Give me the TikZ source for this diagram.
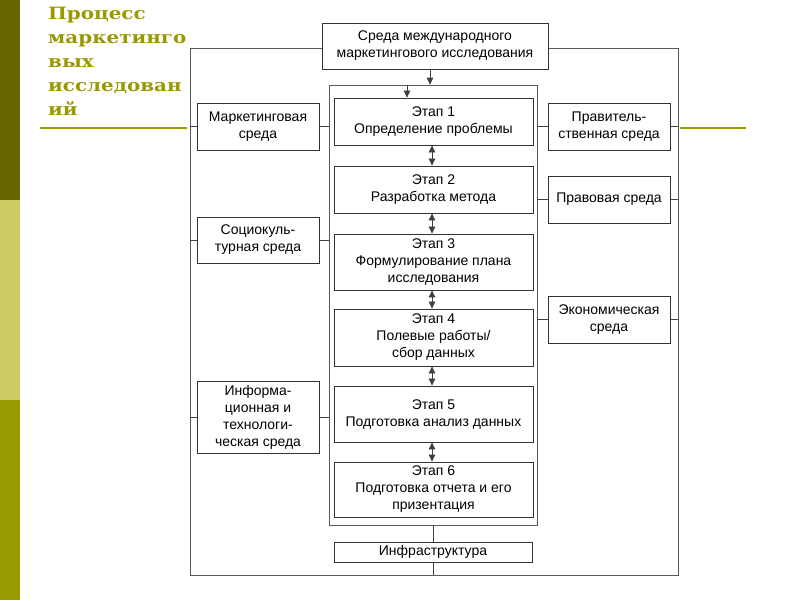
\documentclass[tikz,border=0pt]{standalone}
\usepackage{fontspec}
\setmainfont{Liberation Sans}
\newfontfamily\titlefont[FakeStretch=1.17]{DejaVu Serif}
\usetikzlibrary{arrows.meta}
\definecolor{oliveA}{RGB}{102,102,0}
\definecolor{oliveB}{RGB}{204,204,102}
\definecolor{oliveC}{RGB}{153,153,0}
\definecolor{titlecol}{RGB}{153,153,0}
\begin{document}
\begin{tikzpicture}[x=1pt,y=-1pt,
  box/.style={draw=black!80, line width=0.8pt, fill=white, rectangle, inner sep=0pt,
    align=center, font=\fontsize{14}{17}\selectfont},
  framebox/.style={draw=black!65, line width=0.7pt, rectangle, inner sep=0pt},
  link/.style={draw=black!75, line width=0.7pt},
  arr/.style={link, -{Triangle[length=7pt,width=6.5pt]}},
  darr/.style={link, {Triangle[length=7pt,width=6.5pt]}-{Triangle[length=7pt,width=6.5pt]}}]
\useasboundingbox (0,0) rectangle (800,600);
% side bar
\fill[oliveA] (0,0) rectangle (20,200);
\fill[oliveB] (0,200) rectangle (20,400);
\fill[oliveC] (0,400) rectangle (20,600);
% title
\node[anchor=north west, inner sep=0pt, align=left, text=titlecol,
  font=\titlefont\bfseries\fontsize{17}{24}\selectfont] (title) at (48,6.5)
  {Процесс\\маркетинго\\вых\\исследован\\ий};
\draw[titlecol, line width=2pt] (40,128) -- (187,128);
\draw[titlecol, line width=2pt] (680,128) -- (746,128);
% frames
\node[framebox, minimum width=488pt, minimum height=527pt] (outer) at (434,311.5) {};
\node[framebox, minimum width=208pt, minimum height=440pt] (inner) at (433,305) {};
% top node
\node[box, minimum width=226pt, minimum height=46pt] (top) at (435,46)
  {Среда международного\\маркетингового исследования};
% stages
\node[box, minimum width=199pt, minimum height=47pt] (s1) at (433.5,121.5) {Этап 1\\Определение проблемы};
\node[box, minimum width=199pt, minimum height=47pt] (s2) at (433.5,189.5) {Этап 2\\Разработка метода};
\node[box, minimum width=199pt, minimum height=56pt] (s3) at (433.5,262) {Этап 3\\Формулирование плана\\исследования};
\node[box, minimum width=199pt, minimum height=57pt] (s4) at (433.5,337.5) {Этап 4\\Полевые работы/\\сбор данных};
\node[box, minimum width=199pt, minimum height=56pt] (s5) at (433.5,414) {Этап 5\\Подготовка анализ данных};
\node[box, minimum width=199pt, minimum height=55pt] (s6) at (433.5,489.5) {Этап 6\\Подготовка отчета и его\\призентация};
\node[box, minimum width=198pt, minimum height=20pt] (infra) at (433,552) {Инфраструктура};
% left environments
\node[box, minimum width=122pt, minimum height=47pt] (l1) at (258,126.5) {Маркетинговая\\среда};
\node[box, minimum width=122pt, minimum height=46pt] (l2) at (258,240) {Социокуль-\\турная среда};
\node[box, minimum width=122pt, minimum height=72pt] (l3) at (258,417) {Информа-\\ционная и\\технологи-\\ческая среда};
% right environments
\node[box, minimum width=122pt, minimum height=47pt] (r1) at (609,126.5) {Правитель-\\ственная среда};
\node[box, minimum width=122pt, minimum height=47pt] (r2) at (609,199.5) {Правовая среда};
\node[box, minimum width=122pt, minimum height=47pt] (r3) at (609,319.5) {Экономическая\\среда};
% connectors to frames
\foreach \n in {l1,l2,l3}{
  \draw[link] (\n.west) -- (\n.west -| outer.west);
  \draw[link] (\n.east) -- (\n.east -| inner.west);
}
\foreach \n in {r1,r2,r3}{
  \draw[link] (\n.west) -- (\n.west -| inner.east);
  \draw[link] (\n.east) -- (\n.east -| outer.east);
}
% arrows
\draw[arr] ([xshift=-5pt]top.south) -- ([xshift=-5pt]top.south |- inner.north);
\draw[arr] ([xshift=-26.5pt]s1.north |- inner.north) -- ([xshift=-26.5pt]s1.north);
\draw[darr] ([xshift=-1.5pt]s1.south) -- ([xshift=-1.5pt]s2.north);
\draw[darr] ([xshift=-1.5pt]s2.south) -- ([xshift=-1.5pt]s3.north);
\draw[darr] ([xshift=-1.5pt]s3.south) -- ([xshift=-1.5pt]s4.north);
\draw[darr] ([xshift=-1.5pt]s4.south) -- ([xshift=-1.5pt]s5.north);
\draw[darr] ([xshift=-1.5pt]s5.south) -- ([xshift=-1.5pt]s6.north);
% infrastructure
\draw[link] (inner.south) -- (infra.north);
\draw[link] (infra.south) -- (infra.south |- outer.south);
\end{tikzpicture}
\end{document}
